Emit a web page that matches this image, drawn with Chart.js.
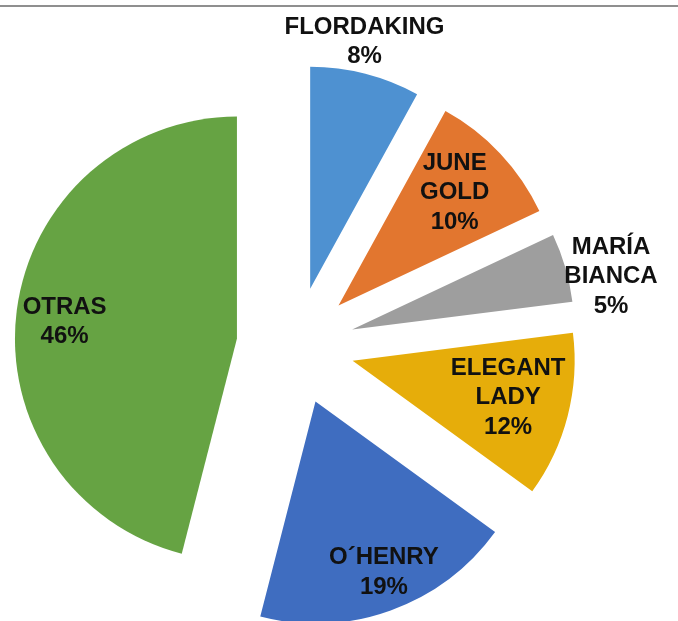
<!DOCTYPE html>
<html>
<head>
<meta charset="utf-8">
<script src="https://cdn.jsdelivr.net/npm/chart.js@4.4.1/dist/chart.umd.min.js"></script>
<style>
  html, body { margin: 0; padding: 0; background: #fff; }
  #wrap { position: relative; width: 678px; height: 621px; }
  #topLine { position: absolute; left: 0; top: 5px; width: 678px; height: 2px; background: #8f8f8f; }
</style>
</head>
<body>
<div id="wrap">
  <canvas id="pieChart" width="678" height="621"></canvas>
  <div id="topLine"></div>
</div>
<script>
const varieties = ['FLORDAKING', 'JUNE GOLD', 'MARÍA BIANCA', 'ELEGANT LADY', 'O´HENRY', 'OTRAS'];
const shares = [8, 10, 5, 12, 19, 46];

const sliceColors = ['#4E91D1', '#E2762F', '#9E9E9E', '#E6AD0A', '#3F6DC0', '#66A343'];
// where each label sits: fraction of radius from the slice tip, and small turn in degrees
const labelRadius = [1.14, 0.73, 1.19, 0.72, 0.83, 0.78];
const labelTurn = [-2, -1, 4.7, -1, -2, -1.6];
const explode = 59;

// push every slice out from the centre along its middle angle
const explodePlugin = {
    id: 'explode',
    afterDatasetsUpdate(chart) {
        const area = chart.chartArea;
        const cx = (area.left + area.right) / 2;
        const cy = (area.top + area.bottom) / 2;
        chart.getDatasetMeta(0).data.forEach(arc => {
            const mid = (arc.startAngle + arc.endAngle) / 2;
            arc.x = cx + Math.cos(mid) * explode;
            arc.y = cy + Math.sin(mid) * explode;
        });
    }
};

const labelPlugin = {
    id: 'sliceLabels',
    afterDatasetsDraw(chart) {
        const ctx = chart.ctx;
        const total = shares.reduce((a, b) => a + b, 0);
        ctx.save();
        ctx.font = 'bold 24px "Liberation Sans", Arial, sans-serif';
        ctx.fillStyle = '#111';
        ctx.textAlign = 'center';
        ctx.textBaseline = 'middle';
        chart.getDatasetMeta(0).data.forEach((arc, i) => {
            const mid = (arc.startAngle + arc.endAngle) / 2 + labelTurn[i] * Math.PI / 180;
            const r = arc.outerRadius * labelRadius[i];
            const x = arc.x + Math.cos(mid) * r;
            const y = arc.y + Math.sin(mid) * r;
            const lines = varieties[i].split(' ');
            lines.push(Math.round(shares[i] / total * 100) + '%');
            const lh = 29.5;
            const y0 = y - (lines.length - 1) * lh / 2;
            lines.forEach((t, k) => ctx.fillText(t, x, y0 + k * lh));
        });
        ctx.restore();
    }
};

new Chart(document.getElementById('pieChart').getContext('2d'), {
    type: 'pie',
    data: {
        labels: varieties,
        datasets: [{
            data: shares,
            backgroundColor: sliceColors,
            borderWidth: 0,
            clip: false
        }]
    },
    options: {
        responsive: false,
        animation: false,
        layout: {
            padding: { left: 73, right: 160, top: 124, bottom: 53 }
        },
        plugins: {
            legend: { display: false },
            tooltip: { enabled: false }
        }
    },
    plugins: [explodePlugin, labelPlugin]
});
</script>
</body>
</html>
